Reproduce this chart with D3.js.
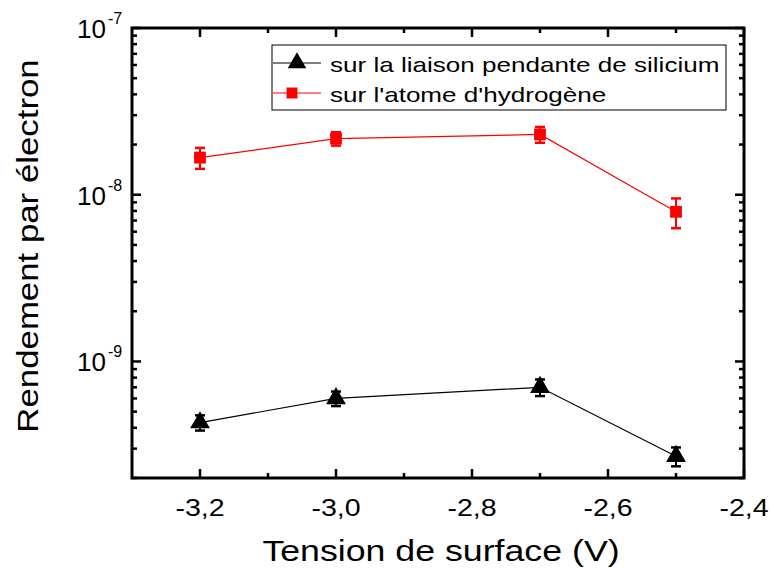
<!DOCTYPE html>
<html><head><meta charset="utf-8">
<script src="https://cdn.jsdelivr.net/npm/d3@7"></script>
<style>body{margin:0;background:#fff}</style>
</head><body>
<svg id="c" width="771" height="568"></svg>
<script>
const voltages = [-3.2, -3.0, -2.7, -2.5];
const siliciumValues = [4.3e-10, 6.0e-10, 7.0e-10, 2.7e-10];
const siliciumErrors = [0.45e-10, 0.6e-10, 0.8e-10, 0.35e-10];
const hydrogeneValues = [1.67e-8, 2.17e-8, 2.3e-8, 7.9e-9];
const hydrogeneErrors = [0.24e-8, 0.2e-8, 0.25e-8, 1.6e-9];
const xTicks = [-3.2, -3.0, -2.8, -2.6, -2.4];
const xMinorTicks = [-3.1, -2.9, -2.7, -2.5];
const yDecades = [-9, -8, -7];
const seriesNames = ["sur la liaison pendante de silicium", "sur l'atome d'hydrogène"];

const svg = d3.select("#c");
const L = 132, R = 744, T = 28, B = 478;
const x = d3.scaleLinear().domain([-3.3, -2.4]).range([L, R]);
const y = d3.scaleLog().domain([2e-10, 1e-7]).range([B, T]);
const font = "Liberation Sans, Arial, sans-serif";

function stretch(sel, k) {
  sel.each(function () {
    const len = this.getComputedTextLength();
    d3.select(this).attr("textLength", len * k).attr("lengthAdjust", "spacingAndGlyphs");
  });
  return sel;
}

// minor y ticks
const yMinor = [];
for (let e = -10; e <= -8; e++) for (let k = 2; k <= 9; k++) {
  const v = k * Math.pow(10, e);
  if (v >= 2e-10 && v <= 1e-7) yMinor.push(v);
}
const g = svg.append("g");
function tickLines(vals, len, isX) {
  vals.forEach(v => {
    if (isX) {
      const px = x(v);
      g.append("line").attr("x1", px).attr("x2", px).attr("y1", B).attr("y2", B - len);
      g.append("line").attr("x1", px).attr("x2", px).attr("y1", T).attr("y2", T + len);
    } else {
      const py = y(v);
      g.append("line").attr("x1", L).attr("x2", L + len).attr("y1", py).attr("y2", py);
      g.append("line").attr("x1", R).attr("x2", R - len).attr("y1", py).attr("y2", py);
    }
  });
}
tickLines(xTicks, 9, true);
tickLines(xMinorTicks, 5, true);
tickLines(yDecades.map(e => Math.pow(10, e)), 9, false);
tickLines(yMinor, 5, false);
g.selectAll("line").attr("stroke", "#000").attr("stroke-width", 2.5);

svg.append("rect").attr("x", L).attr("y", T).attr("width", R - L).attr("height", B - T)
  .attr("fill", "none").attr("stroke", "#000").attr("stroke-width", 3);

// x tick labels
const xl = svg.selectAll(".xl").data(xTicks).enter().append("text")
  .attr("x", d => x(d)).attr("y", B + 38).attr("text-anchor", "middle")
  .attr("font-family", font).attr("font-size", 24)
  .text(d => d3.format(".1f")(d).replace(".", ",").replace("−", "-"));
stretch(xl, 1.19);

// y tick labels
yDecades.forEach(e => {
  const py = y(Math.pow(10, e));
  svg.append("text").attr("x", 77).attr("y", py + 10)
    .attr("font-family", font).attr("font-size", 26).text("10");
  svg.append("text").attr("x", 108).attr("y", py - 4)
    .attr("font-family", font).attr("font-size", 16).text(String(e));
});

// axis titles
const xt = svg.append("text").attr("x", 441).attr("y", 561).attr("text-anchor", "middle")
  .attr("font-family", font).attr("font-size", 30).text("Tension de surface (V)");
stretch(xt, 1.19);
const yt = svg.append("text").attr("transform", `translate(38,246) rotate(-90)`)
  .attr("text-anchor", "middle").attr("font-family", font).attr("font-size", 30)
  .text("Rendement par électron");
stretch(yt, 1.16);

const line = d3.line().x(d => x(d[0])).y(d => y(d[1]));
function series(vals, errs, color, shape) {
  const pts = voltages.map((v, i) => [v, vals[i], errs[i]]);
  svg.append("path").datum(pts).attr("d", line).attr("fill", "none")
    .attr("stroke", color).attr("stroke-width", 1.2);
  pts.forEach(p => {
    const px = x(p[0]), y1 = y(p[1] + p[2]), y0 = y(p[1] - p[2]);
    svg.append("line").attr("x1", px).attr("x2", px).attr("y1", y1).attr("y2", y0).attr("stroke", color).attr("stroke-width", 2);
    [y1, y0].forEach(yy => svg.append("line").attr("x1", px - 5).attr("x2", px + 5)
      .attr("y1", yy).attr("y2", yy).attr("stroke", color).attr("stroke-width", 2.5));
    svg.append("path").attr("transform", `translate(${px},${y(p[1])})`)
      .attr("d", d3.symbol().type(shape).size(shape === d3.symbolSquare ? 140 : 170)())
      .attr("fill", color);
  });
}
series(hydrogeneValues, hydrogeneErrors, "#ff0000", d3.symbolSquare);
series(siliciumValues, siliciumErrors, "#000000", d3.symbolTriangle);

// legend
const lg = svg.append("g");
lg.append("rect").attr("x", 272).attr("y", 45).attr("width", 454).attr("height", 65)
  .attr("fill", "#fff").attr("stroke", "#000").attr("stroke-width", 1);
[["#000", d3.symbolTriangle, 63, 297, 150], ["#ff0000", d3.symbolSquare, 93, 292, 120]].forEach((s, i) => {
  lg.append("line").attr("x1", 273).attr("x2", 321).attr("y1", s[2]).attr("y2", s[2])
    .attr("stroke", s[0]).attr("stroke-width", 1.2);
  lg.append("path").attr("transform", `translate(${s[3]},${s[2]})`)
    .attr("d", d3.symbol().type(s[1]).size(s[4])()).attr("fill", s[0]);
  const t = lg.append("text").attr("x", 330).attr("y", s[2] + 9).attr("font-family", font).attr("font-size", 21)
    .text(seriesNames[i]);
  stretch(t, 1.24);
});
</script>
</body></html>
